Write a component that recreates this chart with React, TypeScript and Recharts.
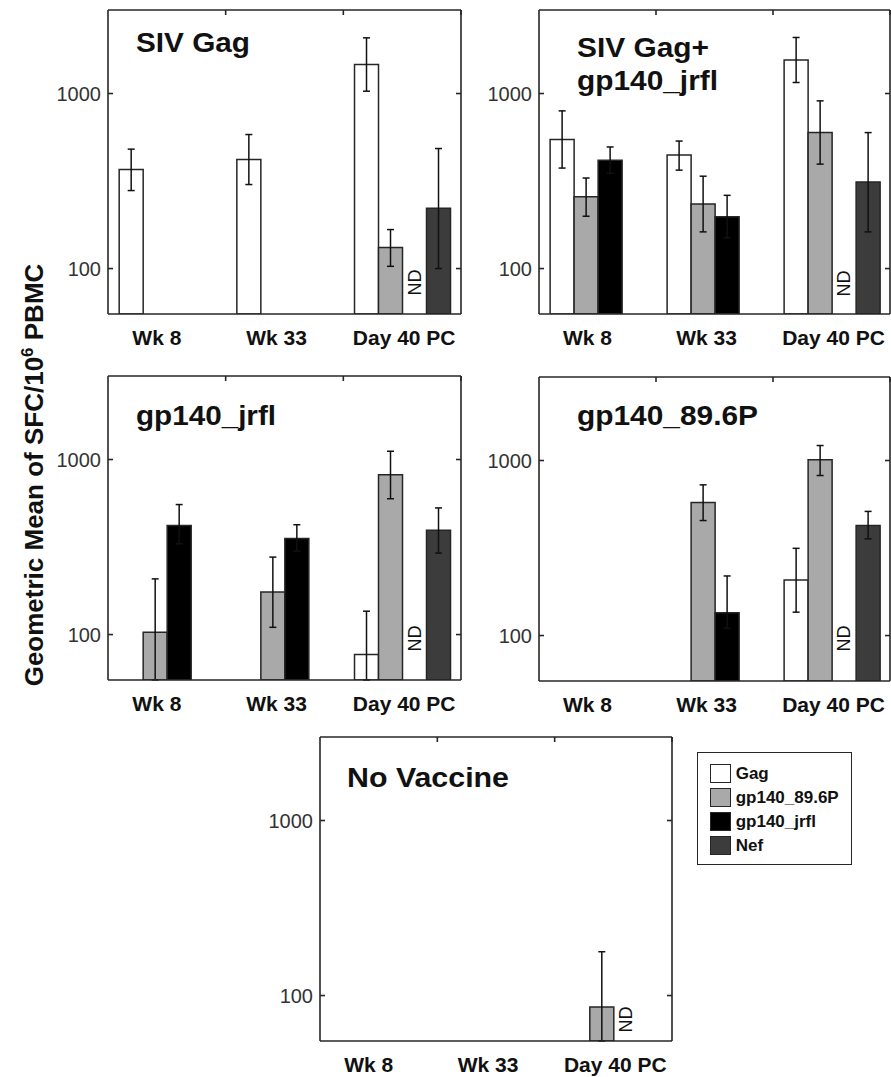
import React from "react";
import { BarChart, Bar, XAxis, YAxis, ErrorBar, Legend, Rectangle } from "recharts";

const categories = ["Wk 8", "Wk 33", "Day 40 PC"];
const seriesNames = ["Gag", "gp140_89.6P", "gp140_jrfl", "Nef"];
const yTicks = [100, 1000];
const yDomain = [55, 3000];

// [geometric mean, low, high] per time point; null = nothing drawn
type Pt = [number, number, number] | null;

const sivGag: Pt[][] = [
  [[368, 279, 481], [420, 302, 583], [1464, 1031, 2080]],
  [null, null, [132, 103, 167]],
  [null, null, null],
  [null, null, [221, 100, 485]],
];
const sivGagJrfl: Pt[][] = [
  [[546, 375, 796], [445, 365, 535], [1552, 1156, 2090]],
  [[257, 199, 329], [234, 162, 337], [598, 395, 908]],
  [[416, 350, 495], [198, 150, 262], null],
  [null, null, [312, 162, 598]],
];
const jrflOnly: Pt[][] = [
  [null, null, [77, 55, 136]],
  [[103, 55, 208], [175, 110, 277], [818, 597, 1115]],
  [[420, 330, 553], [354, 300, 424], null],
  [null, null, [394, 292, 529]],
];
const p896Only: Pt[][] = [
  [null, null, [208, 136, 315]],
  [null, [575, 454, 726], [1009, 821, 1218]],
  [null, [135, 110, 219], null],
  [null, null, [425, 357, 512]],
];
const noVaccine: Pt[][] = [
  [null, null, null],
  [null, null, [86, 55, 178]],
  [null, null, null],
  [null, null, null],
];
// gp140_jrfl not done at Day 40 PC
const notDone = [false, false, true];

const keys = ["gag", "p89", "jrfl", "nef"];
const fills = ["#ffffff", "#a9a9a9", "#000000", "#3c3c3c"];
const labelShift = [-10, -8, 2];
const ink = "#262626";
const font = "'Liberation Sans', Arial, sans-serif";
const PH = 304;

function buildRows(vals: Pt[][]) {
  return categories.map((cat, i) => {
    const row: any = { cat, nd: notDone[i] };
    keys.forEach((k, s) => {
      const p = vals[s][i];
      row[k] = p ? p[0] : null;
      row[k + "Err"] = p ? [p[0] - p[1], p[2] - p[0]] : undefined;
    });
    // ND slot: zero-height bar sitting on the axis floor, drawn as text
    if (row.nd) row.jrfl = yDomain[0];
    return row;
  });
}

function JrflShape(props: any) {
  const { x, width, payload, bottom, lift } = props;
  if (payload && payload.nd) {
    const cx = x + width / 2;
    const cy = bottom - lift - 13.5;
    return (
      <text
        x={cx}
        y={cy}
        transform={`rotate(-90, ${cx}, ${cy})`}
        textAnchor="middle"
        dominantBaseline="central"
        fontSize={18}
        fontFamily={font}
        fill="#111"
      >
        ND
      </text>
    );
  }
  return <Rectangle {...props} />;
}

function CatTick(props: any) {
  const { x, y, payload, index } = props;
  return (
    <text
      x={x + (labelShift[index] || 0)}
      y={y}
      dy="0.71em"
      textAnchor="middle"
      fontSize={21}
      fontWeight="bold"
      fontFamily={font}
      fill="#111"
    >
      {payload.value}
    </text>
  );
}

const NoTick = () => null;

function LegendBox(props: any) {
  const items = [...(props.payload || [])].sort(
    (a: any, b: any) => seriesNames.indexOf(a.value) - seriesNames.indexOf(b.value)
  );
  return (
    <div
      style={{
        boxSizing: "border-box",
        width: 155,
        height: 113,
        border: `1.5px solid ${ink}`,
        padding: "9px 0 0 12px",
        background: "#fff",
        fontFamily: font,
      }}
    >
      {items.map((it: any) => {
        const s = seriesNames.indexOf(it.value);
        return (
          <div key={it.value} style={{ display: "flex", alignItems: "center", height: 24 }}>
            <div
              style={{
                boxSizing: "border-box",
                width: 21,
                height: 19,
                background: fills[s],
                border: `1.5px solid ${ink}`,
                marginRight: 5,
              }}
            />
            <span style={{ fontSize: 17, fontWeight: "bold", color: "#111" }}>{it.value}</span>
          </div>
        );
      })}
    </div>
  );
}

function Panel({ vals, px, py, pw, lift, legend }: any) {
  const rows = buildRows(vals);
  const frame = { stroke: ink, strokeWidth: 1.6 };
  // point axes whose ticks fall on the category boundaries
  const edgePad = { left: pw / 3, right: 0 };
  return (
    <div style={{ position: "absolute", left: px - 60, top: py - 10 }}>
      <BarChart
        width={60 + pw + 10}
        height={10 + PH + 40}
        data={rows}
        margin={{ top: 10, right: 10, bottom: 0, left: 0 }}
        barCategoryGap="9.5%"
        barGap={0}
      >
        <XAxis
          xAxisId="edgeB"
          dataKey="cat"
          scale="point"
          padding={edgePad}
          interval={0}
          orientation="bottom"
          mirror
          height={0}
          tick={<NoTick />}
          tickSize={5}
          axisLine={false}
          tickLine={frame}
        />
        <XAxis
          xAxisId="cat"
          dataKey="cat"
          height={40}
          interval={0}
          tickLine={false}
          tickSize={0}
          tickMargin={16}
          axisLine={frame}
          tick={<CatTick />}
        />
        <XAxis
          xAxisId="edgeT"
          dataKey="cat"
          scale="point"
          padding={edgePad}
          interval={0}
          orientation="top"
          mirror
          height={10}
          tick={<NoTick />}
          tickSize={5}
          axisLine={frame}
          tickLine={frame}
        />
        <YAxis
          yAxisId="y"
          type="number"
          scale="log"
          domain={yDomain}
          allowDataOverflow
          ticks={yTicks}
          width={60}
          tickSize={5}
          tickMargin={2}
          axisLine={frame}
          tickLine={false}
          tick={{ fontSize: 20, fill: "#333", fontFamily: font }}
        />
        <YAxis
          yAxisId="ym"
          type="number"
          scale="log"
          domain={yDomain}
          allowDataOverflow
          ticks={yTicks}
          mirror
          width={10}
          tick={<NoTick />}
          tickSize={5}
          axisLine={false}
          tickLine={frame}
        />
        <YAxis
          yAxisId="r"
          orientation="right"
          type="number"
          scale="log"
          domain={yDomain}
          allowDataOverflow
          ticks={yTicks}
          width={10}
          tick={<NoTick />}
          tickSize={5}
          mirror
          axisLine={frame}
          tickLine={frame}
        />
        {keys.map((k, s) => (
          <Bar
            key={k}
            xAxisId="cat"
            yAxisId="y"
            dataKey={k}
            name={seriesNames[s]}
            fill={fills[s]}
            stroke={ink}
            strokeWidth={1.5}
            isAnimationActive={false}
            shape={k === "jrfl" ? (p: any) => <JrflShape {...p} bottom={10 + PH} lift={lift} /> : undefined}
          >
            <ErrorBar dataKey={k + "Err"} direction="y" width={3.5} stroke="#111" strokeWidth={1.5} />
          </Bar>
        ))}
        {legend && (
          <Legend
            layout="vertical"
            align="center"
            verticalAlign="middle"
            content={<LegendBox />}
            wrapperStyle={{ left: 696.7 - (px - 60), top: 751.7 - (py - 10), width: "auto" }}
          />
        )}
      </BarChart>
    </div>
  );
}

function Title({ x, y, w, children }: any) {
  return (
    <text
      x={x}
      y={y}
      fontSize={28}
      fontWeight="bold"
      fontFamily={font}
      fill="#111"
      textLength={w}
      lengthAdjust="spacingAndGlyphs"
    >
      {children}
    </text>
  );
}

export default function App() {
  return (
    <div
      style={{
        position: "absolute",
        left: 0,
        top: 0,
        width: 891,
        height: 1077,
        background: "#fff",
        fontFamily: font,
        overflow: "hidden",
      }}
    >
      <Panel vals={sivGag} px={108} py={10} pw={353} lift={18} />
      <Panel vals={sivGagJrfl} px={539} py={10} pw={351} lift={17} />
      <Panel vals={jrflOnly} px={108} py={376} pw={353} lift={28} />
      <Panel vals={p896Only} px={539} py={377} pw={351} lift={29} />
      <Panel vals={noVaccine} px={320} py={737} pw={352} lift={8} legend />
      <svg
        width={891}
        height={1077}
        style={{ position: "absolute", left: 0, top: 0, pointerEvents: "none" }}
      >
        <Title x={136} y={52} w={114}>SIV Gag</Title>
        <Title x={577} y={57} w={132}>SIV Gag+</Title>
        <Title x={577} y={90} w={141}>gp140_jrfl</Title>
        <Title x={136} y={425} w={140}>gp140_jrfl</Title>
        <Title x={577} y={425} w={181}>gp140_89.6P</Title>
        <Title x={347} y={787} w={162}>No Vaccine</Title>
        <text
          transform="translate(43,475) rotate(-90)"
          textAnchor="middle"
          fontSize={26}
          fontWeight="bold"
          fontFamily={font}
          fill="#111"
        >
          Geometric Mean of SFC/10
          <tspan dy={-10} fontSize={17}>6</tspan>
          <tspan dy={10}>{"\u00a0PBMC"}</tspan>
        </text>
      </svg>
    </div>
  );
}
